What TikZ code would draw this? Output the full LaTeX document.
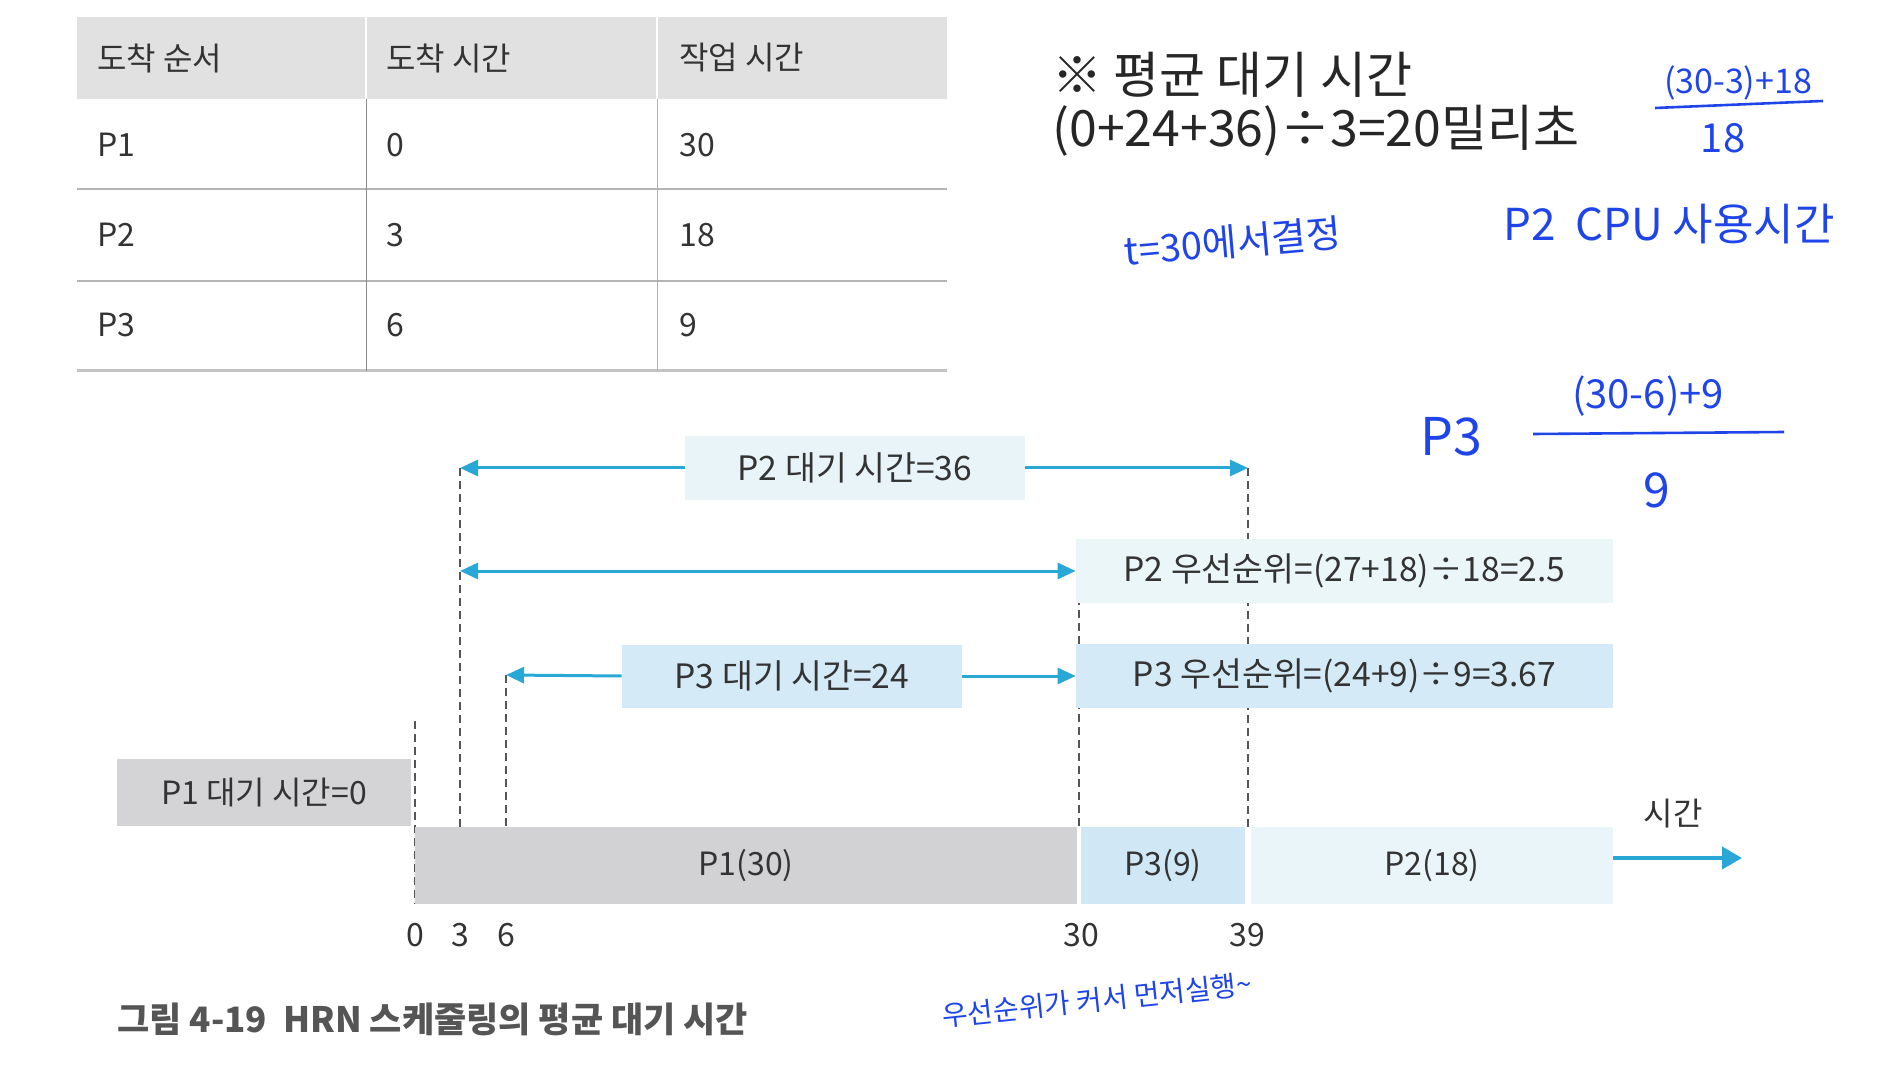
\documentclass[tikz,border=0pt]{standalone}
\usepackage{fontspec}
\setmainfont{Noto Sans CJK KR}
\usetikzlibrary{arrows.meta,positioning}
\definecolor{txtgray}{HTML}{333333}
\definecolor{capgray}{HTML}{555555}
\definecolor{headfill}{HTML}{E1E1E1}
\definecolor{rulegray}{HTML}{B4B4B4}
\definecolor{barone}{HTML}{D2D2D4}
\definecolor{barthree}{HTML}{D0E8F6}
\definecolor{bartwo}{HTML}{EAF5FA}
\definecolor{paleblue}{HTML}{E8F4F8}
\definecolor{softblue}{HTML}{D4EBF7}
\definecolor{arrcyan}{HTML}{29A8D8}
\definecolor{dashgray}{HTML}{555555}
\definecolor{inkblue}{HTML}{1F45E8}
\begin{document}
\begin{tikzpicture}[
			x=0.5pt,y=-0.5pt,
			every node/.style={
				inner sep=0pt,
				text=txtgray,
				font=\fontsize{16}{19}\selectfont
			},
			lbl/.style={anchor=west},
			tagbox/.style={minimum height=31.5pt, font=\fontsize{16.8}{20}\selectfont},
			barbox/.style={minimum height=38.5pt},
			hand/.style={text=inkblue, font=\fontsize{20}{24}\selectfont},
			waitarrow/.style={draw=arrcyan, line width=1.5pt, -{Triangle[length=9pt,width=8pt]}},
			guide/.style={draw=dashgray, line width=0.6pt, dash pattern=on 4pt off 2.5pt}
			]
			\useasboundingbox (0,0) rectangle (1890,1080);
			
			% Table of arrival and burst times
			\fill[headfill] (77,17) rectangle (365,99);
			\fill[headfill] (367,17) rectangle (656,99);
			\fill[headfill] (658,17) rectangle (947,99);
			\draw[rulegray, line width=1.3pt] (77,189) -- (947,189);
			\draw[rulegray, line width=1.3pt] (77,281) -- (947,281);
			\draw[rulegray!80, line width=1.5pt] (77,371) -- (947,371);
			\draw[gray!90, line width=0.5pt] (366,99) -- (366,371);
			\draw[rulegray, line width=0.5pt] (657,99) -- (657,371);
			
			\node[lbl] (h1) at (97,58) {도착 순서};
			\node[lbl] (h2) at (386,58) {도착 시간};
			\node[lbl] (h3) at (679,58) {작업 시간};
			\node[lbl] (r1a) at (97,145) {P1};
			\node[lbl] (r1b) at (386,145) {0};
			\node[lbl] (r1c) at (679,145) {30};
			\node[lbl] (r2a) at (97,235) {P2};
			\node[lbl] (r2b) at (386,235) {3};
			\node[lbl] (r2c) at (679,235) {18};
			\node[lbl] (r3a) at (97,325) {P3};
			\node[lbl] (r3b) at (386,325) {6};
			\node[lbl] (r3c) at (679,325) {9};
			
			% Average waiting time note
			\node[lbl, font=\fontsize{25}{30}\selectfont, text=black!85] (avg1) at (1052,75) {※ 평균 대기 시간};
			\node[lbl, font=\fontsize{25}{30}\selectfont, text=black!85] (avg2) at (1052,131) {(0+24+36)÷3=20밀리초};
			
			% Time marks on the axis
			\coordinate (t0) at (415,721);
			\coordinate (a3) at (460,468);
			\coordinate (c6) at (506,675);
			\coordinate (b3) at (460,571);
			\coordinate (t30) at (1079,571);
			\coordinate (t39) at (1248,468);
			
			% Dashed guides
			\draw[guide] (t0) -- (415,904);
			\draw[guide] (a3) -- (460,827);
			\draw[guide] (c6) -- (506,827);
			\draw[guide] (t30) -- (1079,827);
			\draw[guide] (t39) -- (1248,827);
			
			% Waiting and priority boxes
			\node[tagbox, fill=paleblue, minimum width=170pt] (w36) at (855,468) {P2 대기 시간=36};
			\node[tagbox, fill=paleblue!85, minimum width=268.5pt, minimum height=32pt] (pri2) at (1344.5,571) {P2 우선순위=(27+18)÷18=2.5};
			\node[tagbox, fill=softblue, minimum width=170pt] (w24) at (792,676) {P3 대기 시간=24};
			\node[tagbox, fill=softblue, minimum width=268.5pt, minimum height=32pt] (pri3) at (1344.5,676) {P3 우선순위=(24+9)÷9=3.67};
			\node[fill=barone!95, minimum width=147pt, minimum height=33.5pt] (p1wait) at (264,792.5) {P1 대기 시간=0};
			
			% Waiting arrows
			\draw[waitarrow] (w36.west) -- (a3);
			\draw[waitarrow] (w36.east) -- (t39);
			\draw[waitarrow, {Triangle[length=9pt,width=8pt]}-{Triangle[length=9pt,width=8pt]}] (b3) -- (pri2.west);
			\draw[waitarrow] (w24.west) -- (c6);
			\draw[waitarrow] (w24.east) -- (pri3.west);
			
			% Gantt bars
			\node[barbox, fill=barone, minimum width=331pt] (barP1) at (746,865.5) {P1(30)};
			\node[barbox, fill=barthree, minimum width=82pt] (barP3) at (1163,865.5) {P3(9)};
			\node[barbox, fill=bartwo, minimum width=181pt] (barP2) at (1432,865.5) {P2(18)};
			
			% Time axis arrow
			\coordinate (tend) at (1742,858);
			\draw[draw=arrcyan, line width=2pt, -{Triangle[length=10pt,width=11pt]}] (barP2.east |- tend) -- (tend);
			\node (tlabel) at (1673,814) {시간};
			
			% Tick labels
			\node (k0) at (415,935) {0};
			\node (k3) at (460,935) {3};
			\node (k6) at (506,935) {6};
			\node (k30) at (1081,935) {30};
			\node (k39) at (1247,935) {39};
			
			% Caption
			\node[lbl, text=capgray, font=\bfseries\fontsize{17.5}{21}\selectfont] (caption) at (117,1019) {그림 4-19\ \ HRN 스케줄링의 평균 대기 시간};
			
			% Handwritten notes
			\node[hand, font=\fontsize{17}{20}\selectfont] (n2top) at (1738,83) {(30-3)+18};
			\node[hand] (n2bot) at (1723,138) {18};
			\draw[inkblue, line width=1.3pt] (1655,108) -- (1823,101);
			\node[hand, font=\fontsize{22}{26}\selectfont] (n2cpu) at (1669,224) {P2\ \ CPU\ 사용시간};
			\node[hand, font=\fontsize{19}{22}\selectfont, rotate=5] (n30) at (1233,242) {t=30에서결정};
			\node[hand, font=\fontsize{26}{30}\selectfont] (n3p) at (1451,437) {P3};
			\node[hand] (n3top) at (1648,396) {(30-6)+9};
			\node[hand, font=\fontsize{24}{28}\selectfont] (n3bot) at (1657,490) {9};
			\draw[inkblue, line width=1.3pt] (1533,434) -- (1784,432);
			\node[hand, font=\fontsize{14}{17}\selectfont, rotate=6] (nfirst) at (1097,1000) {우선순위가 커서 먼저실행\textasciitilde};
			
		\end{tikzpicture}
\end{document}
